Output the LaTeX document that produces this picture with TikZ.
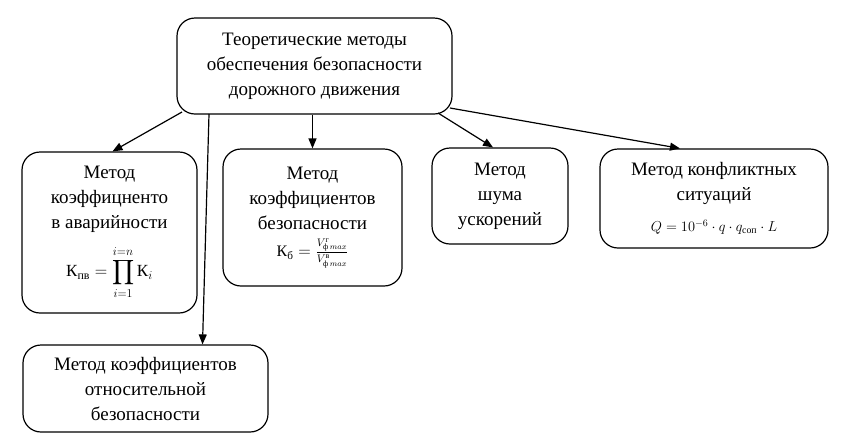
\documentclass[tikz,border=0pt]{standalone}
\usepackage{amsmath}
\usepackage{fontspec}
\setmainfont{Liberation Serif}
\usepackage{tikz}
\usetikzlibrary{calc}
\usetikzlibrary{arrows.meta}

\begin{document}
\begin{tikzpicture}[
		x=1pt, y=-1pt,
		box/.style={draw, rounded corners=18pt, line width=1.2pt, align=center, inner sep=0pt,
			font=\fontsize{19}{25}\selectfont},
		link/.style={draw, line width=1.2pt, -{Triangle[length=10pt, width=8pt]}}
		]
		\useasboundingbox (0,0) rectangle (843,440);
		
		% Nodes
		\node[box, minimum width=275pt, minimum height=96pt] (top) at (314.5,66)
			{Теоретические методы\\обеспечения безопасности\\дорожного движения};
		
		\node[box, minimum width=175pt, minimum height=161pt] (coef) at (109.5,232.5)
			{Метод\\коэффицненто\\в аварийности\\[12pt]
			{\fontsize{17}{19}\selectfont $\text{К}_{\text{пв}} = \displaystyle\prod_{i=1}^{i=n} \text{К}_i$}};
		\node[box, minimum width=179pt, minimum height=137pt] (safe) at (312.5,217.5)
			{Метод\\коэффициентов\\безопасности\\[2pt]
			{\fontsize{16}{18}\selectfont $\text{К}_{\text{б}} = \frac{V^{\text{г}}_{\text{ф}\,max}}{V^{\text{в}}_{\text{ф}\,max}}$}};
		\node[box, minimum width=136pt, minimum height=96pt] (noise) at (500,196)
			{Метод\\шума\\ускорений};
		\node[box, minimum width=228pt, minimum height=99pt] (conf) at (714,198.5)
			{Метод конфликтных\\ситуаций\\[6pt]
			{\fontsize{14}{16}\selectfont $Q = 10^{-6}\cdot q\cdot q_{\text{соп}}\cdot L$}};
		
		\node[box, minimum width=245pt, minimum height=87pt] (rel) at (145.5,388.5)
			{Метод коэффициентов\\относительной\\безопасности};
		
		% Start points on the top box
		\coordinate (s1) at (182,112);
		\coordinate (s2) at (209,114);
		\coordinate (s4) at (438,113);
		\coordinate (s5) at (450,108);
		
		% Arrows
		\draw[link] (s1) -- ($(coef.north)+(3,0)$);
		\draw[link] (s2) -- ($(rel.north)+(57,0)$);
		\draw[link] (safe.north |- top.south) -- (safe.north);
		\draw[link] (s4) -- ($(noise.north)+(-7,0)$);
		\draw[link] (s5) -- ($(conf.north)+(-34,0)$);
		
	\end{tikzpicture}
\end{document}
